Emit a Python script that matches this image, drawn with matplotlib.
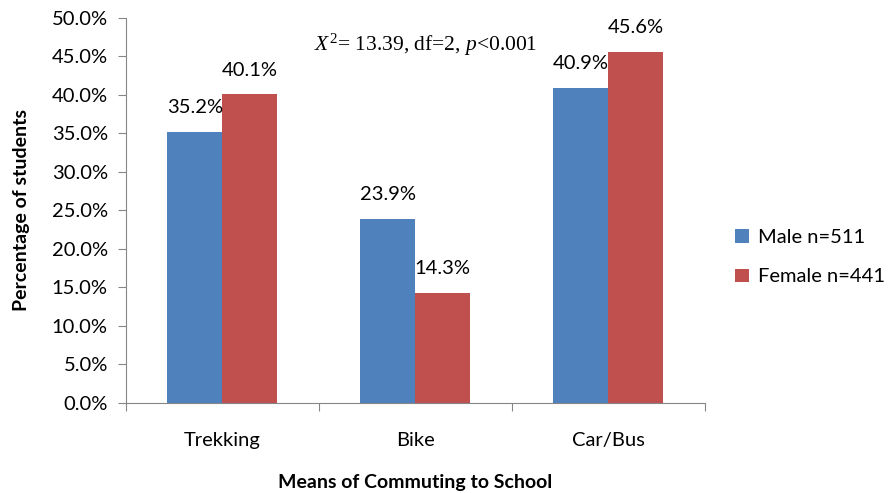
import numpy as np
import matplotlib.pyplot as plt
from matplotlib.ticker import FuncFormatter

categories = ["Trekking", "Bike", "Car/Bus"]
male_pct = [35.2, 23.9, 40.9]
female_pct = [40.1, 14.3, 45.6]
series_names = ["Male n=511", "Female n=441"]

BLUE = "#4F81BD"
RED = "#C0504D"
AXIS_GRAY = "#868686"
FS = 14.5

plt.rcParams["font.family"] = ["Lato", "DejaVu Sans"]
plt.rcParams["mathtext.fontset"] = "custom"
plt.rcParams["mathtext.rm"] = "Liberation Serif"
plt.rcParams["mathtext.it"] = "Liberation Serif:italic"

fig = plt.figure(figsize=(8.93, 4.93), dpi=100)
ax = fig.add_axes([0.141, 0.183, 0.648, 0.781])

x = np.arange(len(categories))
w = 0.285
b1 = ax.bar(x - w / 2, male_pct, w, color=BLUE, label=series_names[0])
b2 = ax.bar(x + w / 2, female_pct, w, color=RED, label=series_names[1])

for bars, vals in ((b1, male_pct), (b2, female_pct)):
    for rect, v in zip(bars, vals):
        ax.text(rect.get_x() + rect.get_width() / 2, v + 2.0, f"{v:.1f}%",
                ha="center", va="bottom", fontsize=FS)

ax.set_xlim(-0.5, 2.5)
ax.set_ylim(0, 50)
ax.set_yticks(np.arange(0, 50.1, 5))
ax.yaxis.set_major_formatter(FuncFormatter(lambda v, _: f"{v:.1f}%"))

# category boundaries carry the tick marks, names sit centred below
ax.set_xticks([-0.5, 0.5, 1.5, 2.5])
ax.set_xticklabels([])
ax.set_xticks(x, minor=True)
ax.set_xticklabels(categories, minor=True)
ax.tick_params(axis="x", which="minor", length=0, pad=21, labelsize=FS)
ax.tick_params(axis="x", which="major", length=6, color=AXIS_GRAY)
ax.tick_params(axis="y", length=6, color=AXIS_GRAY, labelsize=FS, pad=7)

for side in ("top", "right"):
    ax.spines[side].set_visible(False)
for side in ("left", "bottom"):
    ax.spines[side].set_color(AXIS_GRAY)

ax.set_ylabel("Percentage of students", fontsize=14, fontweight="bold", labelpad=16)
ax.set_xlabel("Means of Commuting to School", fontsize=14, fontweight="bold", labelpad=18)

ax.text(0.518, 0.93, r"$X^2$= 13.39, df=2, $p$<0.001",
        transform=ax.transAxes, ha="center", va="center",
        fontsize=15.5, family="Liberation Serif")

ax.legend(loc="center left", bbox_to_anchor=(1.022, 0.378), frameon=False,
          fontsize=FS, handlelength=0.65, handleheight=0.65, labelspacing=1.1,
          handletextpad=0.45)

fig.savefig("out.png", dpi=100)
